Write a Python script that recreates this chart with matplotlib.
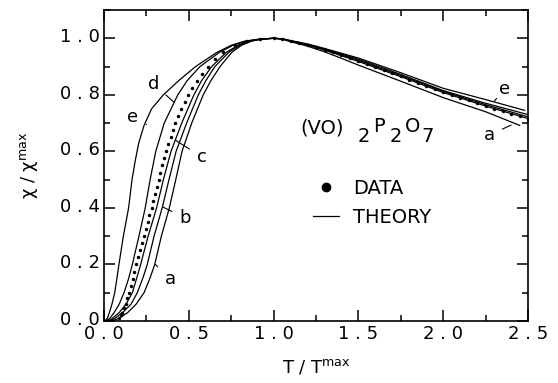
import matplotlib
matplotlib.use('Agg')

import matplotlib.pyplot as plt
from matplotlib.lines import Line2D
from matplotlib.ticker import MultipleLocator, FuncFormatter
from matplotlib.transforms import ScaledTranslation

# theory curves a-e: rising branch, then falling branch
a_x = [0.0, 0.06, 0.09, 0.14, 0.19, 0.236, 0.27, 0.299, 0.338, 0.385, 0.423, 0.46, 0.517, 0.585,
       0.63, 0.684, 0.753, 0.81, 0.87, 0.93, 1.0,
       1.05, 1.1, 1.2, 1.3, 1.4, 1.5, 1.75, 2.0, 2.25, 2.45]
a_y = [0.0, 0.003, 0.01, 0.03, 0.06, 0.1, 0.15, 0.2, 0.3, 0.4, 0.5, 0.6, 0.7, 0.8,
       0.85, 0.9, 0.95, 0.975, 0.99, 0.997, 1.0,
       0.997, 0.988, 0.972, 0.952, 0.929, 0.905, 0.848, 0.79, 0.74, 0.692]

b_x = [0.0, 0.045, 0.065, 0.11, 0.16, 0.196, 0.228, 0.255, 0.295, 0.343, 0.383, 0.425, 0.487, 0.556,
       0.60, 0.654, 0.735, 0.80, 0.86, 0.93, 1.0,
       1.05, 1.1, 1.2, 1.3, 1.4, 1.5, 1.75, 2.0, 2.25, 2.5]
b_y = [0.0, 0.003, 0.01, 0.03, 0.06, 0.1, 0.15, 0.2, 0.3, 0.4, 0.5, 0.6, 0.7, 0.8,
       0.85, 0.9, 0.95, 0.975, 0.99, 0.997, 1.0,
       0.998, 0.99, 0.976, 0.958, 0.938, 0.918, 0.864, 0.808, 0.76, 0.716]

c_x = [0.0, 0.035, 0.05, 0.09, 0.13, 0.167, 0.192, 0.216, 0.26, 0.31, 0.35, 0.395, 0.458, 0.53,
       0.575, 0.635, 0.72, 0.79, 0.85, 0.92, 1.0,
       1.05, 1.1, 1.2, 1.3, 1.4, 1.5, 1.75, 2.0, 2.25, 2.5]
c_y = [0.0, 0.003, 0.01, 0.03, 0.06, 0.1, 0.15, 0.2, 0.3, 0.4, 0.5, 0.6, 0.7, 0.8,
       0.85, 0.9, 0.95, 0.975, 0.99, 0.997, 1.0,
       0.998, 0.99, 0.977, 0.96, 0.941, 0.922, 0.868, 0.812, 0.765, 0.722]

d_x = [0.0, 0.02, 0.035, 0.06, 0.09, 0.118, 0.145, 0.167, 0.206, 0.243, 0.272, 0.305, 0.355, 0.435,
       0.49, 0.566, 0.68, 0.76, 0.84, 0.92, 1.0,
       1.05, 1.1, 1.2, 1.3, 1.4, 1.5, 1.75, 2.0, 2.25, 2.5]
d_y = [0.0, 0.003, 0.01, 0.03, 0.06, 0.1, 0.15, 0.2, 0.3, 0.4, 0.5, 0.6, 0.7, 0.8,
       0.85, 0.9, 0.95, 0.975, 0.99, 0.997, 1.0,
       0.998, 0.991, 0.978, 0.962, 0.944, 0.926, 0.872, 0.815, 0.77, 0.73]

e_x = [0.0, 0.01, 0.02, 0.032, 0.047, 0.063, 0.076, 0.088, 0.114, 0.145, 0.165, 0.185, 0.205, 0.235,
       0.28, 0.35, 0.44, 0.54, 0.665, 0.75, 0.83, 0.92, 1.0,
       1.05, 1.1, 1.2, 1.3, 1.4, 1.5, 1.75, 2.0, 2.25, 2.48]
e_y = [0.0, 0.003, 0.01, 0.03, 0.06, 0.1, 0.15, 0.2, 0.3, 0.4, 0.5, 0.57, 0.63, 0.69,
       0.75, 0.8, 0.85, 0.9, 0.95, 0.975, 0.99, 0.997, 1.0,
       0.998, 0.992, 0.98, 0.964, 0.947, 0.93, 0.878, 0.823, 0.783, 0.745]

# measured data points
data_x = [0.09, 0.10, 0.108, 0.118, 0.127, 0.137, 0.147, 0.157, 0.168, 0.179, 0.19, 0.201, 0.212,
          0.224, 0.235, 0.246, 0.257, 0.268, 0.28, 0.291, 0.301, 0.312, 0.322, 0.333, 0.343, 0.354,
          0.365, 0.378, 0.392, 0.406, 0.42, 0.437, 0.456, 0.475, 0.495, 0.52, 0.55, 0.58, 0.615,
          0.655, 0.70, 0.77, 0.84, 0.92, 1.0,
          1.05, 1.1, 1.15, 1.2, 1.25, 1.3, 1.35, 1.4, 1.45, 1.5, 1.55, 1.6, 1.65, 1.7, 1.75, 1.8,
          1.85, 1.9, 1.95, 2.0, 2.05, 2.1, 2.15, 2.2, 2.25, 2.3, 2.35, 2.4, 2.45, 2.5]
data_y = [0.01, 0.02, 0.03, 0.045, 0.06, 0.08, 0.1, 0.125, 0.15, 0.175, 0.2, 0.225, 0.25,
          0.275, 0.3, 0.325, 0.35, 0.375, 0.4, 0.425, 0.45, 0.475, 0.5, 0.525, 0.55, 0.575,
          0.6, 0.625, 0.65, 0.675, 0.7, 0.725, 0.75, 0.775, 0.8, 0.825, 0.85, 0.875, 0.9,
          0.925, 0.95, 0.975, 0.99, 0.998, 1.0,
          0.998, 0.992, 0.985, 0.977, 0.969, 0.96, 0.95, 0.94, 0.93, 0.92, 0.909, 0.898, 0.887,
          0.876, 0.865, 0.854, 0.843, 0.832, 0.821, 0.81, 0.8, 0.79, 0.78, 0.77, 0.76, 0.751,
          0.742, 0.733, 0.724, 0.715]

curves = {"a": (a_x, a_y), "b": (b_x, b_y), "c": (c_x, c_y), "d": (d_x, d_y), "e": (e_x, e_y)}

# curve labels: text position, leader end point
labels = [("e", (0.17, 0.72), (0.25, 0.695)),
          ("d", (0.29, 0.84), (0.41, 0.775)),
          ("c", (0.576, 0.58), (0.42, 0.64)),
          ("b", (0.48, 0.363), (0.345, 0.404)),
          ("a", (0.39, 0.15), (0.303, 0.2)),
          ("e", (2.364, 0.822), (2.30, 0.777)),
          ("a", (2.27, 0.657), (2.40, 0.693))]

# formula pieces: text, offset from anchor in pixels
formula = [("(VO)", 0, 0), ("2", 58, -9), ("P", 73, 1), ("2", 90, -9), ("O", 105, 1), ("7", 121, -9)]

fig = plt.figure(figsize=(5.58, 3.83), dpi=100)
ax = fig.add_axes([0.1864, 0.1619, 0.76, 0.812])

for name, (xs, ys) in curves.items():
    ax.plot(xs, ys, color="black", lw=0.9)
ax.plot(data_x, data_y, "o", color="black", ms=2.5, mec="none")

for txt, pos, end in labels:
    ax.annotate(txt, xy=end, xytext=pos, fontsize=13, ha="center", va="center",
                arrowprops=dict(arrowstyle="-", color="black", lw=0.8, shrinkA=4, shrinkB=0))

for txt, dx, dy in formula:
    ax.annotate(txt, xy=(1.156, 0.664), xytext=(dx, dy), textcoords="offset pixels",
                fontsize=14, ha="left", va="baseline")

handles = [Line2D([], [], marker="o", ls="none", color="black", ms=6),
           Line2D([], [], color="black", lw=0.9)]
ax.legend(handles, ["DATA", "THEORY"], loc="center left", bbox_to_anchor=(0.452, 0.38),
          frameon=False, fontsize=14, handlelength=1.35, handletextpad=0.72, labelspacing=0.5)

ax.set_xlim(0, 2.5)
ax.set_ylim(0, 1.1)
ax.xaxis.set_major_locator(MultipleLocator(0.5))
ax.xaxis.set_minor_locator(MultipleLocator(0.25))
ax.yaxis.set_major_locator(MultipleLocator(0.2))
ax.yaxis.set_minor_locator(MultipleLocator(0.1))
spaced = FuncFormatter(lambda v, p: " . ".join(f"{v:.1f}".split(".")))
ax.xaxis.set_major_formatter(spaced)
ax.yaxis.set_major_formatter(spaced)
ax.tick_params(which="both", direction="in", top=True, right=True, labelsize=13, width=1.1)
ax.tick_params(which="major", length=8, pad=3)
ax.tick_params(which="minor", length=4)
for s in ax.spines.values():
    s.set_linewidth(1.2)

# nudge y tick labels up a little, as in the original
up = ScaledTranslation(0, 3 / 100, fig.dpi_scale_trans)
for t in ax.get_yticklabels():
    t.set_transform(t.get_transform() + up)

ax.set_xlabel(r"T / T$^{\mathregular{max}}$", fontsize=13, labelpad=10)
ax.set_ylabel(r"χ / χ$^{\mathregular{max}}$", fontsize=13, labelpad=14)

fig.savefig("out.png", dpi=100)
plt.close()
